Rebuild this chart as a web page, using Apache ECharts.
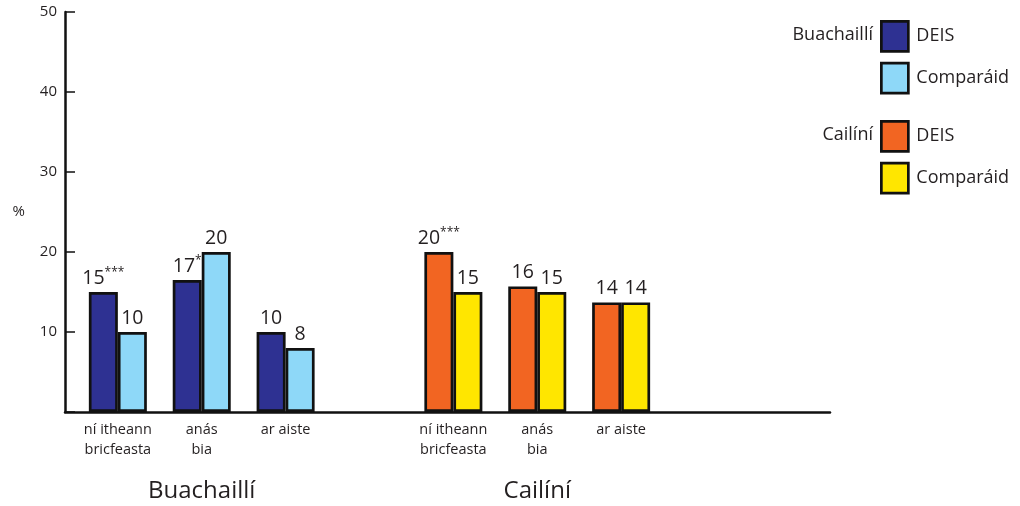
<!DOCTYPE html>
<html>
<head>
<meta charset="utf-8">
<script src="https://cdn.jsdelivr.net/npm/echarts@6/dist/echarts.min.js"></script>
<style>html,body{margin:0;padding:0;background:#fff}#c{width:1020px;height:506px}</style>
</head>
<body>
<div id="c"></div>
<script>
// ---- data ----
const categories = ['ní itheann\nbricfeasta', 'anás\nbia', 'ar aiste'];
const groups = ['Buachaillí', 'Cailíní'];
const boysSlots = [1, 2, 3];
const girlsSlots = [5, 6, 7];
const boysDEIS = [15, 16.5, 10];
const boysComp = [10, 20, 8];
const girlsDEIS = [20, 15.7, 13.7];
const girlsComp = [15, 15, 13.7];
const boysDEISSig = ['***', '*', ''];
const boysCompSig = ['', '', ''];
const girlsDEISSig = ['***', '', ''];
const girlsCompSig = ['', '', ''];
const yTicks = [0, 10, 20, 30, 40, 50];

const FONT = 'Open Sans';
const TXT = '#231f20';
const colors = {
  'Buachaillí DEIS': '#2e3192',
  'Buachaillí Comparáid': '#8ed8f8',
  'Cailíní DEIS': '#f26522',
  'Cailíní Comparáid': '#ffe600'
};

const allSlots = boysSlots.concat(girlsSlots);
const slotLabel = {};
boysSlots.forEach((s, i) => slotLabel[s] = categories[i]);
girlsSlots.forEach((s, i) => slotLabel[s] = categories[i]);

// pad data to all slots so index-based stacking never mixes the groups
function build(slots, vals, sigs) {
  return allSlots.map(s => {
    const i = slots.indexOf(s);
    return i < 0 ? [s, null] : {value: [s, vals[i]], sig: sigs[i]};
  });
}

function mkSeries(name, stack, data) {
  return {
    name: name,
    type: 'bar',
    stack: stack,
    barWidth: 29,
    barGap: '0%',
    data: data,
    itemStyle: {color: colors[name], borderColor: '#111', borderWidth: 2.7},
    label: {
      show: true,
      position: 'top',
      distance: 3,
      formatter: p => {
        const v = Math.round(p.value[1]);
        const sig = p.data.sig;
        return sig ? '{v|' + v + '}{s|' + sig + '}' : '{v|' + v + '}';
      },
      rich: {
        v: {fontFamily: FONT, fontSize: 19.5, color: TXT, lineHeight: 22},
        s: {fontFamily: FONT, fontSize: 12, color: TXT, verticalAlign: 'top', lineHeight: 22, padding: [0, 0, 10, 0]}
      }
    }
  };
}

function legendFor(names, top) {
  return {
    data: names,
    orient: 'vertical',
    left: 880, top: top,
    padding: 0,
    itemWidth: 27, itemHeight: 30, itemGap: 9,
    icon: 'rect',
    selectedMode: false,
    formatter: n => n.split(' ')[1],
    itemStyle: {borderColor: '#111', borderWidth: 2.7},
    textStyle: {fontFamily: FONT, fontSize: 18, color: TXT, padding: [0, 0, 0, 3]}
  };
}

const chart = echarts.init(document.getElementById('c'), null, {renderer: 'canvas'});

const option = {
  animation: false,
  backgroundColor: '#fff',
  grid: {left: 65, right: 190, top: 12, bottom: 94},
  xAxis: {
    type: 'value',
    min: 0.37,
    max: 9.49,
    splitLine: {show: false},
    axisTick: {show: false},
    axisLine: {show: true, onZero: false, lineStyle: {color: '#111', width: 2.5}},
    axisLabel: {
      customValues: allSlots,
      formatter: v => slotLabel[v] || '',
      fontFamily: FONT,
      fontSize: 14.5,
      lineHeight: 20,
      color: TXT,
      margin: 8
    }
  },
  yAxis: {
    type: 'value',
    min: yTicks[0],
    max: yTicks[yTicks.length - 1],
    interval: 10,
    name: '%',
    nameLocation: 'middle',
    nameRotate: 0,
    nameGap: 40,
    nameTextStyle: {fontFamily: FONT, fontSize: 15, color: TXT},
    splitLine: {show: false},
    axisLine: {show: true, lineStyle: {color: '#111', width: 2.5}},
    axisTick: {show: true, inside: true, length: 10, lineStyle: {color: '#111', width: 1.5}},
    axisLabel: {
      formatter: v => v === 0 ? '' : String(v),
      fontFamily: FONT,
      fontSize: 15,
      color: TXT,
      margin: 8
    }
  },
  legend: [
    legendFor(['Buachaillí DEIS', 'Buachaillí Comparáid'], 20),
    legendFor(['Cailíní DEIS', 'Cailíní Comparáid'], 120)
  ],
  series: [
    mkSeries('Buachaillí DEIS', 'deis', build(boysSlots, boysDEIS, boysDEISSig)),
    mkSeries('Buachaillí Comparáid', 'comp', build(boysSlots, boysComp, boysCompSig)),
    mkSeries('Cailíní DEIS', 'deis', build(girlsSlots, girlsDEIS, girlsDEISSig)),
    mkSeries('Cailíní Comparáid', 'comp', build(girlsSlots, girlsComp, girlsCompSig))
  ]
};
chart.setOption(option);

// group labels centred under each group, positioned through the x scale
const gx1 = chart.convertToPixel({xAxisIndex: 0}, boysSlots[1]);
const gx2 = chart.convertToPixel({xAxisIndex: 0}, girlsSlots[1]);
const gy = chart.convertToPixel({yAxisIndex: 0}, 0) + 79;
const txt = (t, x, y, size, align) => ({type: 'text', x: x, y: y,
  style: {text: t, align: align, verticalAlign: 'middle', font: size + 'px "' + FONT + '"', fill: TXT}});
chart.setOption({
  graphic: [
    txt(groups[0], gx1, gy, 24, 'center'),
    txt(groups[1], gx2, gy, 24, 'center'),
    txt(groups[0], 873, 35, 18, 'right'),
    txt(groups[1], 873, 135, 18, 'right')
  ]
});
</script>
</body>
</html>
